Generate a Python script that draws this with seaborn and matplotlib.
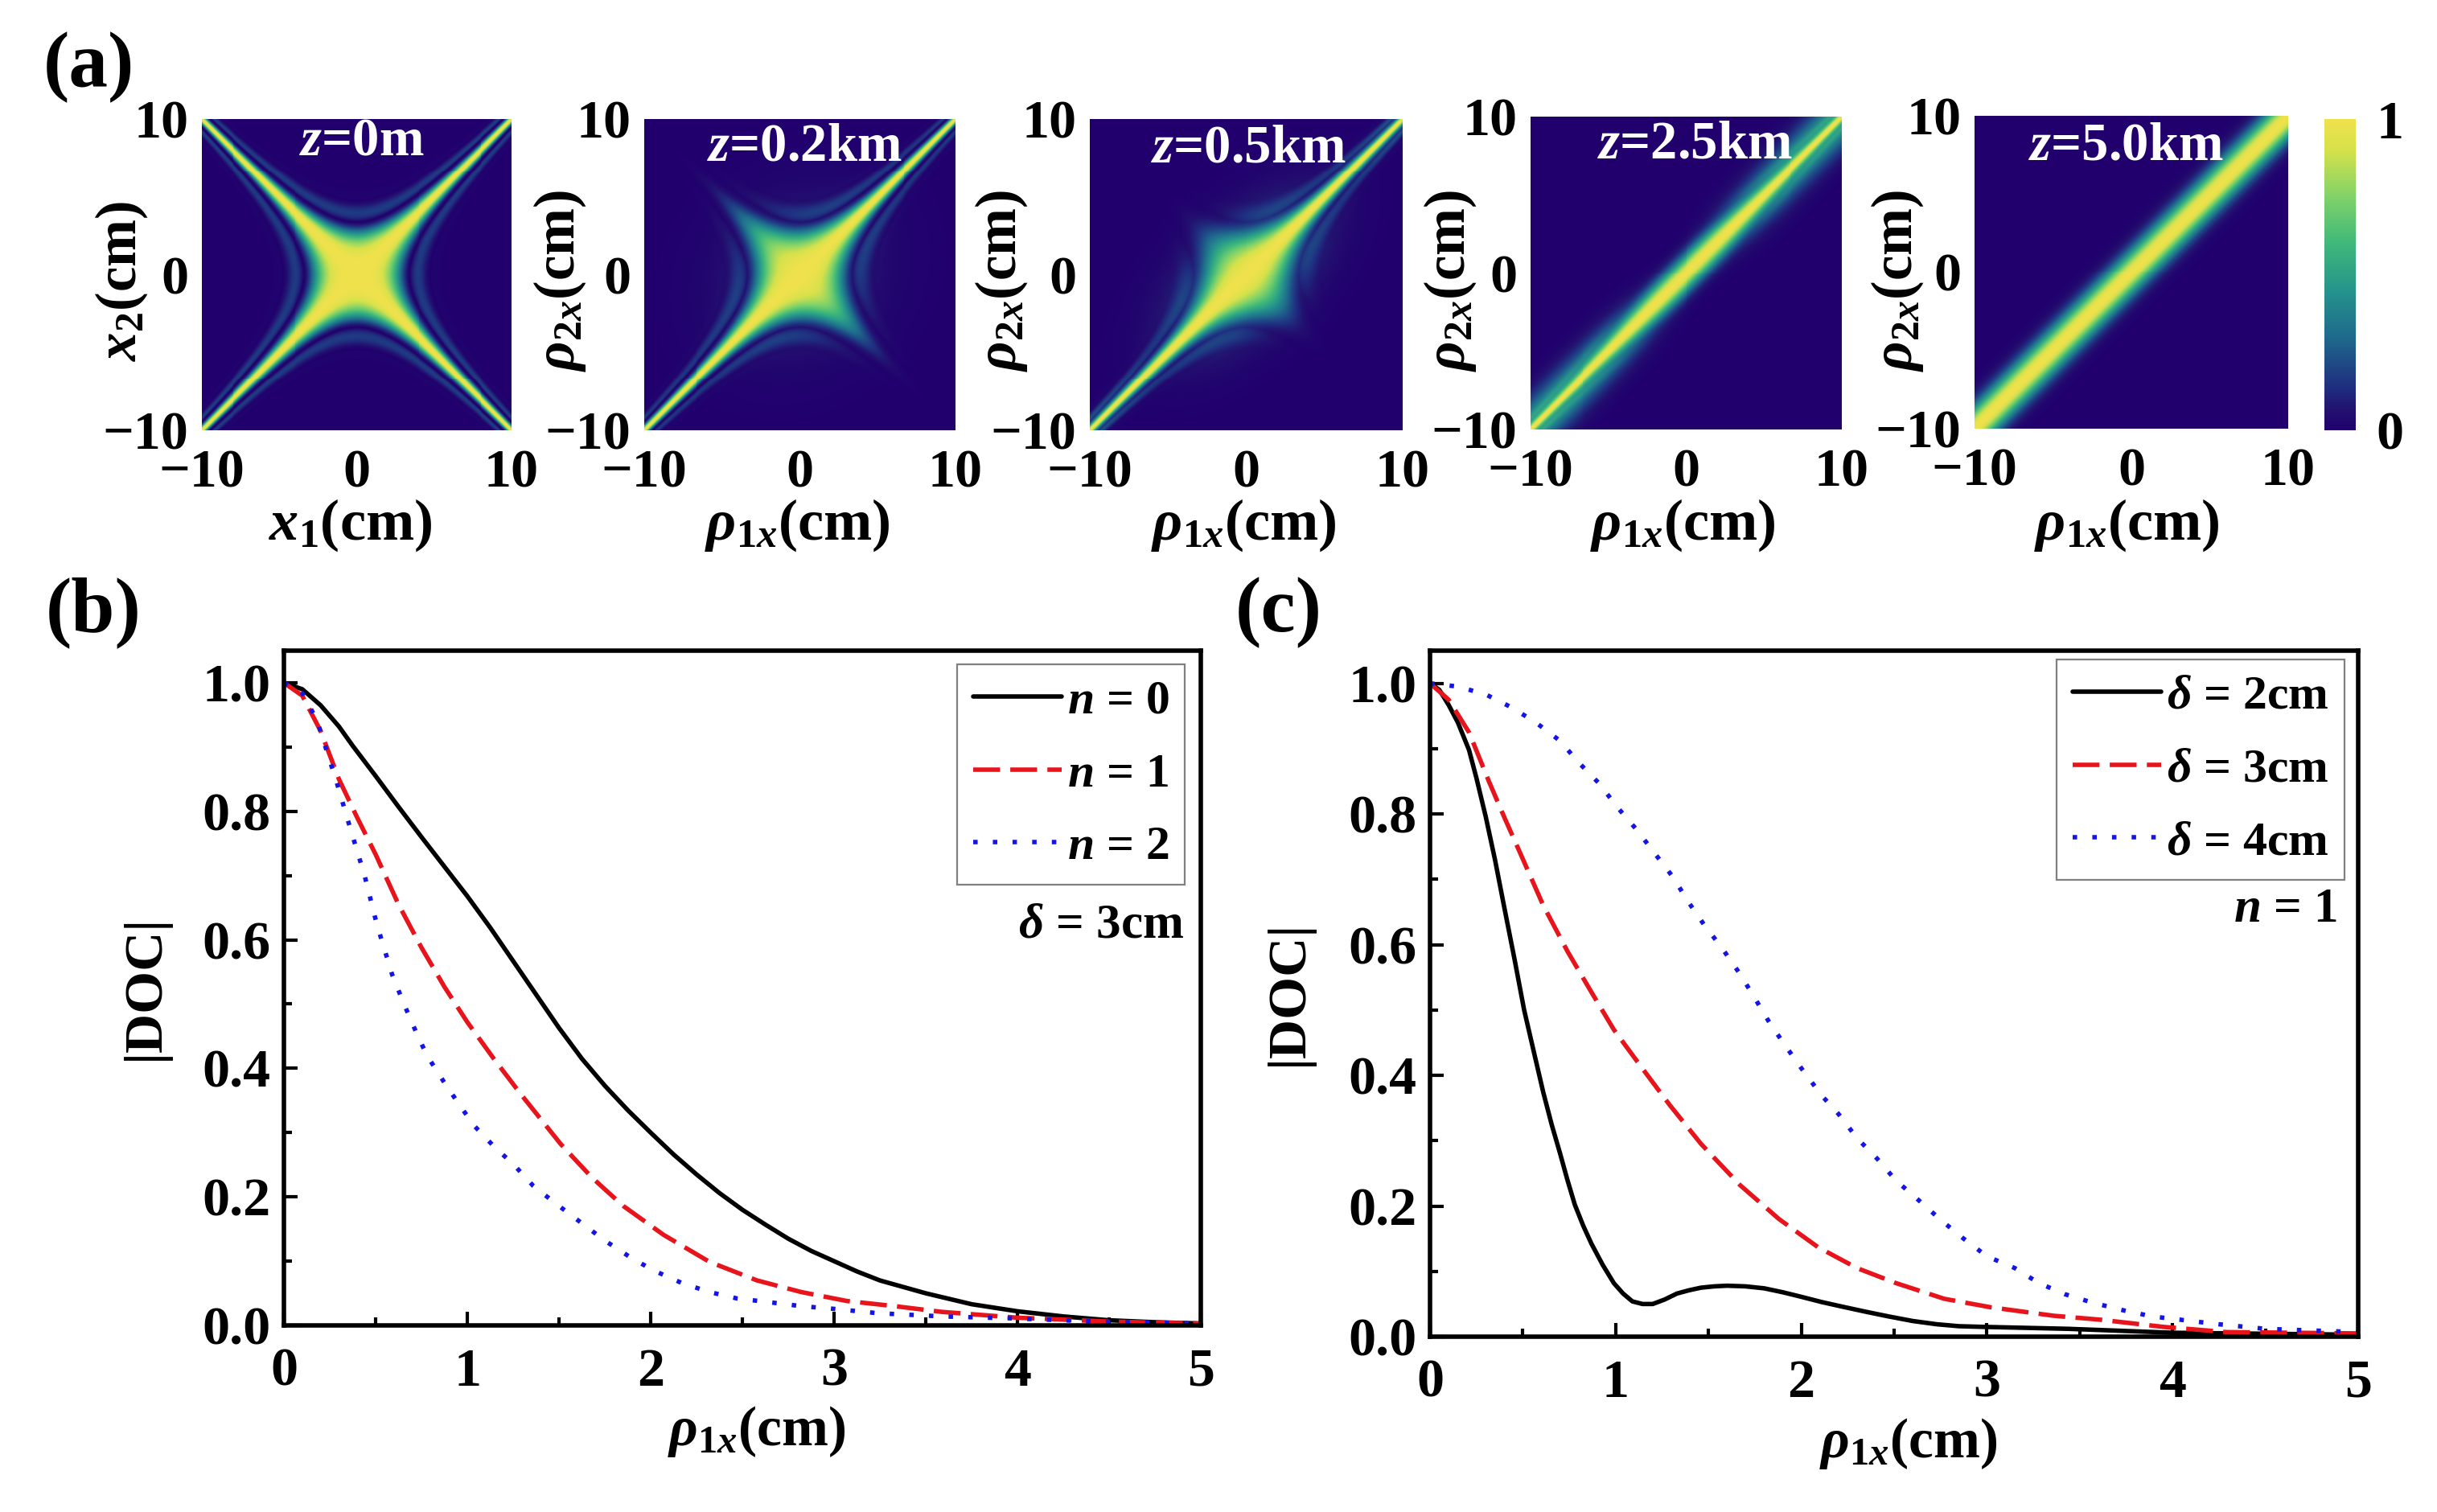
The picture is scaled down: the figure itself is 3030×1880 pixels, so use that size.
import numpy as np
import pandas as pd
import matplotlib
matplotlib.use("Agg")
import matplotlib.pyplot as plt
from matplotlib.colors import LinearSegmentedColormap
import seaborn as sns

# ---------- panel (b) curves ----------
b0_x = [0, .1, .2, .3, .375, .5, .625, .75, .875, 1.0, 1.125, 1.25, 1.375, 1.5, 1.625, 1.75, 1.875, 2.0, 2.125, 2.25, 2.375, 2.5, 2.625, 2.75, 2.875, 3.0, 3.125, 3.25, 3.5, 3.75, 4.0, 4.25, 4.5, 4.75, 5.0]
b0_y = [1.0, .99, .965, .932, .902, .855, .807, .76, .714, .668, .619, .567, .515, .463, .415, .373, .335, .30, .266, .235, .206, .18, .157, .135, .116, .10, .084, .07, .05, .033, .022, .014, .008, .005, .003]
b1_x = [0, .1, .2, .3, .4, .5, .625, .75, .875, 1.0, 1.147, 1.297, 1.51, 1.68, 1.85, 2.07, 2.32, 2.58, 2.82, 3.07, 3.33, 3.59, 4.0, 4.5, 5.0]
b1_y = [1.0, .98, .925, .85, .79, .733, .655, .588, .527, .472, .414, .358, .282, .23, .186, .141, .099, .07, .052, .038, .03, .021, .012, .006, .003]
b2_x = [0, .1, .18, .29, .355, .44, .505, .59, .655, .72, .78, .87, .955, 1.04, 1.147, 1.254, 1.36, 1.49, 1.62, 1.75, 1.9, 2.02, 2.17, 2.32, 2.47, 2.65, 2.82, 2.99, 3.24, 3.59, 3.97, 4.44, 5.0]
b2_y = [1.0, .984, .942, .843, .78, .70, .626, .546, .5, .457, .42, .38, .344, .31, .278, .25, .217, .188, .16, .132, .104, .085, .066, .052, .042, .036, .03, .026, .019, .014, .011, .006, .003]

# ---------- panel (c) curves ----------
c0_x = [0, .05, .1, .15, .21, .25, .3, .35, .4, .455, .507, .56, .61, .655, .7, .74, .78, .825, .87, .93, .99, 1.04, 1.09, 1.145, 1.2, 1.265, 1.33, 1.395, 1.46, 1.53, 1.6, 1.7, 1.8, 1.9, 2.0, 2.11, 2.22, 2.35, 2.47, 2.6, 2.73, 2.85, 2.98, 3.44, 4.0, 5.0]
c0_y = [1.0, .99, .967, .94, .898, .855, .796, .73, .657, .578, .5, .435, .374, .325, .281, .24, .202, .17, .142, .11, .082, .066, .054, .05, .05, .057, .066, .071, .075, .077, .078, .077, .074, .068, .061, .053, .046, .038, .031, .024, .019, .016, .015, .012, .006, .003]
c1_x = [0, .1, .21, .317, .4, .486, .61, .74, .87, .99, 1.14, 1.29, 1.46, 1.67, 1.88, 2.09, 2.3, 2.51, 2.77, 3.02, 3.36, 3.61, 3.95, 4.29, 5.0]
c1_y = [1.0, .975, .925, .85, .795, .74, .66, .59, .527, .47, .412, .355, .295, .232, .18, .137, .105, .082, .058, .045, .032, .026, .015, .007, .005]
c2_x = [0, .15, .3, .44, .57, .7, .8, .91, 1.01, 1.11, 1.21, 1.31, 1.39, 1.48, 1.57, 1.67, 1.75, 1.83, 1.92, 2.0, 2.11, 2.2, 2.3, 2.41, 2.51, 2.62, 2.75, 2.87, 3.0, 3.15, 3.28, 3.42, 3.57, 3.74, 3.89, 4.04, 4.25, 4.5, 5.0]
c2_y = [1.0, .995, .983, .963, .94, .912, .879, .847, .81, .777, .74, .703, .666, .629, .596, .555, .518, .48, .443, .411, .369, .341, .304, .272, .239, .212, .179, .151, .123, .105, .082, .065, .052, .04, .031, .026, .019, .012, .007]

b_labels = [r"$n$ = 0", r"$n$ = 1", r"$n$ = 2"]
c_labels = [r"$\delta$ = 2cm", r"$\delta$ = 3cm", r"$\delta$ = 4cm"]

# ---------- panel (a), widths measured on each map (cm) ----------
z_labels = [r"$z$=0m", r"$z$=0.2km", r"$z$=0.5km", r"$z$=2.5km", r"$z$=5.0km"]
envelope_width = [1000.0, 4.8, 3.0, 0.9, 1.05]   # decay across the diagonal
halo_width = [0.3, 0.35, 0.55, 1.35, 1.05]       # broad ridge
core_share = [1.0, 0.9, 0.72, 0.45, 0.0]         # share of the sharp ridge
lobe_scale = 11.5                                # x^2 at the first dark hyperbola
heat_ticks = ["\u221210", "0", "10"]

cmap_colors = [(0.00, "#21006e"), (0.06, "#22106f"), (0.14, "#1f2f80"), (0.30, "#1f6a8c"),
               (0.45, "#25948c"), (0.60, "#3fb87a"), (0.75, "#80d269"), (0.90, "#d5e14b"),
               (1.00, "#efe14c")]

sns.set_theme(style="ticks")
plt.rcParams.update({
    "font.family": ["Liberation Serif", "DejaVu Serif"],
    "font.weight": "bold",
    "axes.labelweight": "bold",
    "text.color": "black",
    "axes.edgecolor": "black",
    "axes.labelcolor": "black",
    "xtick.color": "black",
    "ytick.color": "black",
    "mathtext.fontset": "custom",
    "mathtext.rm": "Liberation Serif:bold",
    "mathtext.it": "Liberation Serif:italic:bold",
    "mathtext.bf": "Liberation Serif:bold",
})

W, H = 3030, 1880
fig = plt.figure(figsize=(W / 100, H / 100), dpi=100, facecolor="white")


def box(x0, y0, x1, y1):
    return fig.add_axes([x0 / W, 1 - y1 / H, (x1 - x0) / W, (y1 - y0) / H])


cmap = LinearSegmentedColormap.from_list("doc", cmap_colors)
n = 390
axis = np.linspace(10, -10, n)
x2, x1 = np.meshgrid(axis, -axis, indexing="ij")
p, d = x1 + x2, x1 - x2
t = np.abs(p * d / lobe_scale)
near = np.exp(-(x1 ** 2 + x2 ** 2) / (2 * 4.0 ** 2))


def sharp_ridge():
    s = np.abs(np.sinc(t))
    main = near * s + (1 - near) * s ** 2
    lobes = 1.05 * s * np.exp(-(t / 1.9) ** 4)
    return np.where(t < 1, main, lobes)


ridge = sharp_ridge()


def field(i):
    env = np.exp(-d ** 2 / (2 * envelope_width[i] ** 2))
    halo = np.exp(-d ** 2 / (2 * halo_width[i] ** 2))
    grow = 1 - np.exp(-(p / 8.0) ** 2)
    return core_share[i] * ridge * env + (1 - core_share[i]) * (halo * grow + env * (1 - grow))


heat_boxes = [(251, 148, 636, 535), (801, 148, 1188, 535), (1355, 148, 1744, 535),
              (1903, 145, 2290, 534), (2455, 144, 2845, 533)]
z_pos = [(450, 176), (1000, 183), (1552, 185), (2107, 180), (2643, 182)]
xlab_x = [436, 991, 1546, 2092, 2644]
ylab_x = [151, 696, 1245, 1803, 2359]
xlabels = [r"$x_1$(cm)"] + [r"$\rho_{1x}$(cm)"] * 4
ylabels = [r"$x_2$(cm)"] + [r"$\rho_{2x}$(cm)"] * 4
TICK = 49

cax = box(2890, 148, 2929, 535)
for i, bx in enumerate(heat_boxes):
    ax = box(*bx)
    last = i == len(heat_boxes) - 1
    sns.heatmap(field(i), ax=ax, cmap=cmap, vmin=0, vmax=1, cbar=last,
                cbar_ax=cax if last else None, xticklabels=False, yticklabels=False)
    ax.set_xticks([0, n / 2, n], heat_ticks)
    ax.set_yticks([n, n / 2, 0], heat_ticks)
    ax.tick_params(length=0, labelsize=TICK, pad=12, labelrotation=0)
    ax.tick_params(axis="x", pad=17)
    ax.set_xlabel("")
    ax.set_ylabel("")
    fig.text(xlab_x[i] / W, 1 - 653 / H, xlabels[i], fontsize=TICK + 3, ha="center", va="center")
    fig.text(ylab_x[i] / W, 1 - 349 / H, ylabels[i], fontsize=TICK + 2, ha="center", va="center", rotation=90)
    fig.text(z_pos[i][0] / W, 1 - z_pos[i][1] / H, z_labels[i], color="white", fontsize=TICK - 1,
             ha="center", va="center")

cax.yaxis.set_ticks([0, 1], ["0", "1"])
cax.tick_params(length=0, labelsize=TICK, pad=18)
for sp in cax.spines.values():
    sp.set_visible(False)

COLORS = ["black", "#e8141c", "#1414e6"]
DASHES = ["-", (0, (6, 2.3)), (0, (1, 3.4))]


def line_panel(bx, series, labels, legend_box, note, note_xy, xlab_xy, ylab_xy):
    ax = box(*bx)
    for (xs, ys), lab, col, dash in zip(series, labels, COLORS, DASHES):
        df = pd.DataFrame({"x": xs, "y": ys})
        sns.lineplot(data=df, x="x", y="y", ax=ax, color=col, linestyle=dash, linewidth=4,
                     label=lab, errorbar=None, sort=False, clip_on=True)
    ax.set_xlim(0, 5)
    ax.set_ylim(0, 1.05)
    ax.set_xticks(range(6))
    ax.set_xticks(np.arange(0.5, 5, 1), minor=True)
    ax.set_yticks(np.arange(0, 1.01, .2))
    ax.set_yticks(np.arange(0.1, 1.0, .2), minor=True)
    ax.tick_params(which="major", direction="in", length=12, width=3, labelsize=TICK)
    ax.tick_params(which="minor", direction="in", length=7, width=3)
    ax.tick_params(axis="x", which="major", pad=20)
    ax.tick_params(axis="y", which="major", pad=12)
    for sp in ax.spines.values():
        sp.set_linewidth(4)
    ax.set_xlabel("")
    ax.set_ylabel("")
    fig.text(xlab_xy[0] / W, 1 - xlab_xy[1] / H, r"$\rho_{1x}$(cm)", fontsize=TICK + 1, ha="center", va="center")
    fig.text(ylab_xy[0] / W, 1 - ylab_xy[1] / H, "|DOC|", fontsize=TICK, ha="center", va="center", rotation=90)
    x0, y0, x1, y1 = legend_box
    leg = ax.legend(loc="upper right",
                    bbox_to_anchor=((x1 - bx[0]) / (bx[2] - bx[0]), (bx[3] - y0) / (bx[3] - bx[1])),
                    bbox_transform=ax.transAxes, borderaxespad=0, fontsize=43, frameon=True, fancybox=False,
                    edgecolor="#808080", framealpha=1, handlelength=1.85, handletextpad=0.12,
                    labelspacing=0.6, borderpad=0.32)
    leg.get_frame().set_linewidth(1.6)
    fig.text(note_xy[0] / W, 1 - note_xy[1] / H, note, fontsize=44, ha="right", va="center")
    return ax


line_panel((353, 809, 1493, 1648), [(b0_x, b0_y), (b1_x, b1_y), (b2_x, b2_y)], b_labels,
           (1193, 826, 1473, 1095), r"$\delta$ = 3cm", (1472, 1150), (941, 1780), (180, 1227))
line_panel((1778, 809, 2932, 1662), [(c0_x, c0_y), (c1_x, c1_y), (c2_x, c2_y)], c_labels,
           (2560, 820, 2915, 1081), r"$n$ = 1", (2906, 1131), (2373, 1795), (1602, 1234))

for txt, x, y in [("(a)", 110, 84), ("(b)", 116, 762), ("(c)", 1590, 762)]:
    fig.text(x / W, 1 - y / H, txt, fontsize=70, ha="center", va="center")

fig.savefig("out.png", dpi=100, facecolor="white")
